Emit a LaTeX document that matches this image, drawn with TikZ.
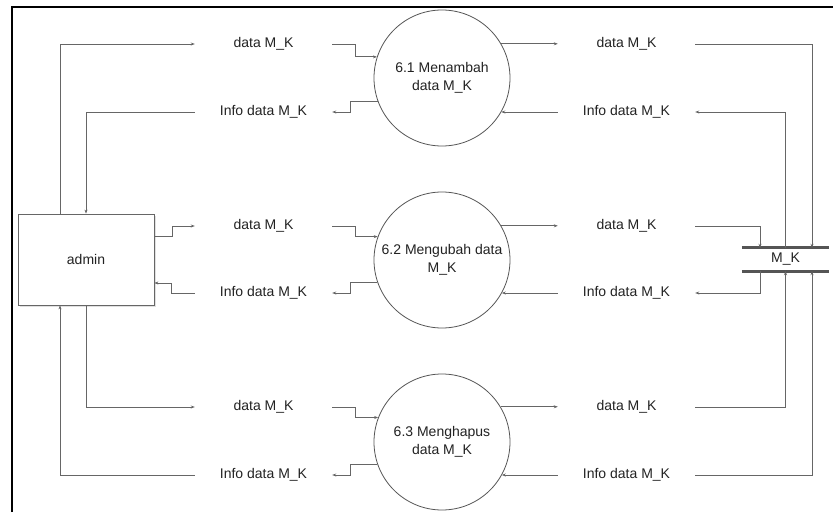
\documentclass[tikz,border=0pt]{standalone}
\usepackage{fontspec}
\setmainfont{Liberation Sans}
\usetikzlibrary{arrows.meta,calc,shadows}
\definecolor{linegray}{HTML}{666666}
\definecolor{circgray}{HTML}{555555}
\definecolor{txt}{HTML}{222222}
\begin{document}
\begin{tikzpicture}[x=1pt,y=-1pt,
  flow/.style={draw=linegray, line width=0.8pt, -{Stealth[length=4pt,width=3pt]}},
  lbl/.style={minimum width=137pt, minimum height=16pt, inner sep=0pt, font=\fontsize{14}{16}\selectfont, text=txt},
  proc/.style={circle, draw=circgray, line width=0.8pt, fill=white, minimum size=136pt, inner sep=0pt, align=center, font=\fontsize{14}{18}\selectfont, text=txt},
  entity/.style={rectangle, draw=linegray, line width=0.8pt, fill=white, minimum width=136pt, minimum height=91pt, font=\fontsize{14}{16}\selectfont, text=txt, drop shadow={shadow xshift=2pt, shadow yshift=-2pt, fill=black!12, opacity=1}},
  store/.style={minimum width=87pt, minimum height=23pt, inner sep=0pt, font=\fontsize{14}{16}\selectfont, text=txt},
  bar/.style={draw=circgray, line width=3pt}
]
\useasboundingbox (0,0) rectangle (833,512);
\draw[line width=2pt] (12,512) -- (12,7) -- (833,7);

% entity
\node[entity] (adm) at (86,259.5) {admin};

% processes
\node[proc] (c1) at (442,78) {6.1 Menambah\\data M\_K};
\node[proc] (c2) at (442,260) {6.2 Mengubah data\\M\_K};
\node[proc] (c3) at (442,442) {6.3 Menghapus\\data M\_K};

% data store
\node[store] (st) at (785.5,259.5) {M\_K};
\draw[bar] (st.north west) -- (st.north east);
\draw[bar] (st.south west) -- (st.south east);

% left labels
\node[lbl] (d1l) at (263.5,44) {data M\_K};
\node[lbl] (i1l) at (263.5,112) {Info data M\_K};
\node[lbl] (d2l) at (263.5,226) {data M\_K};
\node[lbl] (i2l) at (263.5,293) {Info data M\_K};
\node[lbl] (d3l) at (263.5,407) {data M\_K};
\node[lbl] (i3l) at (263.5,475) {Info data M\_K};

% right labels
\node[lbl] (d1r) at (626.5,44) {data M\_K};
\node[lbl] (i1r) at (626.5,112) {Info data M\_K};
\node[lbl] (d2r) at (626.5,226) {data M\_K};
\node[lbl] (i2r) at (626.5,293) {Info data M\_K};
\node[lbl] (d3r) at (626.5,407) {data M\_K};
\node[lbl] (i3r) at (626.5,475) {Info data M\_K};

% admin <-> left labels
\draw[flow] ([xshift=-26pt]adm.north) |- (d1l.west);
\draw[flow] (i1l.west) -| (adm.north);
\draw[flow] ([yshift=23.5pt]adm.east) -- ++(18,0) |- (d2l.west);
\draw[flow] (i2l.west) -- ++(-23,0) |- ([yshift=-23.5pt]adm.east);
\draw[flow] (adm.south) |- (d3l.west);
\draw[flow] (i3l.west) -| ([xshift=-26pt]adm.south);

% left labels <-> processes
\draw[flow] (d1l.east) -- ++(23,0) |- (c1.162);
\draw[flow] (c1.200) -| ($(i1l.east)+(18,0)$) -- (i1l.east);
\draw[flow] (d2l.east) -- ++(23,0) |- (c2.160);
\draw[flow] (c2.199) -| ($(i2l.east)+(18,0)$) -- (i2l.east);
\draw[flow] (d3l.east) -- ++(23,0) |- (c3.159);
\draw[flow] (c3.199) -| ($(i3l.east)+(18,0)$) -- (i3l.east);

% processes <-> right labels
\draw[flow] (c1.30) -- (c1.30 -| d1r.west);
\draw[flow] (i1r.west) -- (i1r.west -| c1.-30);
\draw[flow] (c2.30) -- (c2.30 -| d2r.west);
\draw[flow] (i2r.west) -- (i2r.west -| c2.-29);
\draw[flow] (c3.31) -- (c3.31 -| d3r.west);
\draw[flow] (i3r.west) -- (i3r.west -| c3.-29);

% right labels <-> store
\draw[flow] (d1r.east) -| ([xshift=26.5pt]st.north);
\draw[flow] (st.north) |- (i1r.east);
\draw[flow] (d2r.east) -| ([xshift=-25.5pt]st.north);
\draw[flow] ([xshift=-25.5pt]st.south) |- (i2r.east);
\draw[flow] (d3r.east) -| (st.south);
\draw[flow] (i3r.east) -| ([xshift=26.5pt]st.south);
\end{tikzpicture}
\end{document}
